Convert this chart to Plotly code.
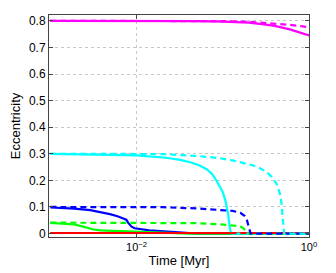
import plotly.graph_objects as go

# ---- data ----
t_mag_s = [0.001, 0.01, 0.05, 0.1, 0.2, 0.3, 0.4, 0.6, 0.8, 1.0]
e_mag_s = [0.800, 0.800, 0.799, 0.797, 0.793, 0.787, 0.781, 0.768, 0.756, 0.745]
t_mag_d = [0.001, 0.01, 0.1, 0.2, 0.4, 0.6, 0.8, 1.0]
e_mag_d = [0.800, 0.800, 0.799, 0.797, 0.791, 0.785, 0.780, 0.776]

t_cyan_s = [0.001, 0.003, 0.01, 0.022, 0.032, 0.042, 0.054, 0.065, 0.075, 0.084, 0.092,
            0.1, 0.108, 0.115, 0.119, 0.123, 0.128, 1.0]
e_cyan_s = [0.300, 0.298, 0.294, 0.285, 0.277, 0.268, 0.256, 0.242, 0.224, 0.200, 0.178,
            0.156, 0.120, 0.075, 0.035, 0.008, 0.0, 0.0]
t_cyan_d = [0.001, 0.02, 0.054, 0.09, 0.13, 0.18, 0.22, 0.27, 0.32, 0.37, 0.42, 0.46,
            0.48, 0.495, 0.505, 0.515, 1.0]
e_cyan_d = [0.300, 0.299, 0.291, 0.284, 0.275, 0.265, 0.257, 0.246, 0.232, 0.213, 0.188,
            0.150, 0.113, 0.060, 0.020, 0.0, 0.0]

t_blue_s = [0.001, 0.0019, 0.0029, 0.0039, 0.0049, 0.0060, 0.0070, 0.0076, 0.0080, 0.00875,
            0.0095, 0.011, 0.014, 0.019, 0.025, 0.032, 0.05, 1.0]
e_blue_s = [0.098, 0.094, 0.088, 0.081, 0.073, 0.065, 0.058, 0.052, 0.040, 0.026,
            0.020, 0.016, 0.012, 0.009, 0.006, 0.004, 0.0, 0.0]
t_blue_d = [0.001, 0.02, 0.054, 0.1, 0.13, 0.16, 0.18, 0.19, 0.2, 0.205, 0.21, 1.0]
e_blue_d = [0.100, 0.099, 0.094, 0.088, 0.085, 0.078, 0.066, 0.052, 0.030, 0.012, 0.0, 0.0]

t_green_s = [0.001, 0.0015, 0.0019, 0.0024, 0.0031, 0.0038, 0.0046, 0.0065, 0.0092, 0.013,
             0.019, 0.028, 0.04, 1.0]
e_green_s = [0.040, 0.037, 0.034, 0.026, 0.016, 0.012, 0.011, 0.009, 0.0075, 0.006,
             0.004, 0.002, 0.0, 0.0]
t_green_d = [0.001, 0.05, 0.092, 0.13, 0.155, 0.17, 0.18, 0.19, 0.20, 1.0]
e_green_d = [0.041, 0.039, 0.035, 0.032, 0.028, 0.022, 0.014, 0.006, 0.0, 0.0]

t_red = [0.001, 1.0]
e_red_s = [0.002, 0.002]
e_red_d = [0.002, 0.002]

x_tickvals = [0.01, 1]
x_ticktext = ["10<sup>\u22122</sup>", "10<sup>0</sup>"]
y_tickvals = [0, 0.1, 0.2, 0.3, 0.4, 0.5, 0.6, 0.7, 0.8]
y_ticktext = ["0", "0.1", "0.2", "0.3", "0.4", "0.5", "0.6", "0.7", "0.8"]

fig = go.Figure()
W = 2.2
DASH = "6px,4px"

def add(t, e, color, dash=None):
    fig.add_trace(go.Scatter(x=t, y=e, mode="lines",
                             line=dict(color=color, width=W, dash=dash or "solid"),
                             showlegend=False, hoverinfo="skip"))

add(t_mag_s, e_mag_s, "#FF00FF")
add(t_blue_s, e_blue_s, "#0000FF")
add(t_green_s, e_green_s, "#00FF00")
add(t_red, e_red_s, "#FF0000")
add(t_cyan_s, e_cyan_s, "#00FFFF")
add(t_mag_d, e_mag_d, "#FF00FF", DASH)
add(t_green_d, e_green_d, "#00FF00", DASH)
add(t_red, e_red_d, "#FF0000", DASH)
add(t_blue_d, e_blue_d, "#0000FF", DASH)
add(t_cyan_d, e_cyan_d, "#00FFFF", DASH)

axis_common = dict(showline=True, linecolor="#444444", linewidth=1, mirror="ticks",
                   ticks="inside", ticklen=4, tickcolor="#444444",
                   showgrid=True, gridcolor="#c8c8c8", griddash="dot", gridwidth=1,
                   zeroline=False)

# page body has an 8px margin: size/margins compensate so the plot box lands at
# x 49..309, y 15..237 in the 336x273 window
fig.update_layout(
    width=328, height=265,
    margin=dict(l=41, r=27, t=7, b=36, autoexpand=False),
    paper_bgcolor="white", plot_bgcolor="white",
    font=dict(family="Liberation Sans, Arial, sans-serif", size=12, color="#000000"),
    xaxis=dict(type="log", range=[-3.016, 0], tickvals=x_tickvals, ticktext=x_ticktext,
               tickfont=dict(size=11, color="#000000"),
               title=dict(text="Time [Myr]", standoff=3, font=dict(size=13)), **axis_common),
    yaxis=dict(range=[-0.013, 0.822], tickvals=y_tickvals, ticktext=y_ticktext,
               tickfont=dict(size=12, color="#000000"),
               title=dict(text="Eccentricity", standoff=6, font=dict(size=13)), **axis_common),
)

fig.write_html("out.html")
